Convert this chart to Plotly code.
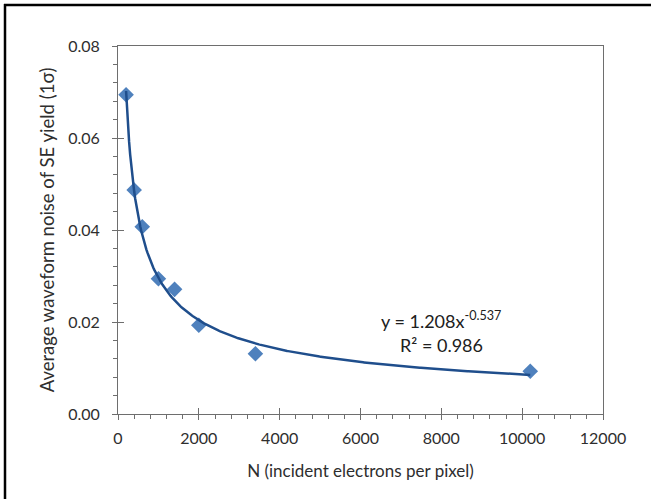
import numpy as np
import plotly.graph_objects as go

# Measured noise vs. incident electrons per pixel
n_electrons = [200, 400, 600, 1000, 1400, 2000, 3400, 10200]
noise_sigma = [0.0694, 0.0487, 0.0407, 0.0294, 0.0271, 0.0193, 0.0131, 0.0093]

# Power-law fit y = a * x^b
fit_a = 1.208
fit_b = -0.537
fit_r2 = 0.986

x_ticks = [0, 2000, 4000, 6000, 8000, 10000, 12000]
y_ticks = [0.00, 0.02, 0.04, 0.06, 0.08]

x_fit = np.linspace(min(n_electrons), max(n_electrons), 400)
y_fit = fit_a * x_fit ** fit_b

FONT = "Lato, 'Open Sans', sans-serif"
AXIS_COL = "#6e6e6e"
TEXT_COL = "#2e2e2e"

fig = go.Figure()
fig.add_trace(go.Scatter(
    x=n_electrons, y=noise_sigma, mode="markers",
    marker=dict(symbol="diamond", size=12, color="#4f81bd"),
    showlegend=False, hoverinfo="x+y",
))
fig.add_trace(go.Scatter(
    x=x_fit, y=y_fit, mode="lines",
    line=dict(color="#1f4e8c", width=2.5),
    showlegend=False, hoverinfo="skip",
))
# helper trace so the inner-tick axes are drawn
fig.add_trace(go.Scatter(x=[None], y=[None], xaxis="x2", yaxis="y2",
                         showlegend=False, hoverinfo="skip"))

x_range = [x_ticks[0], x_ticks[-1]]
y_range = [y_ticks[0], y_ticks[-1]]

fig.update_layout(
    width=651, height=499,
    margin=dict(l=118, r=48, t=46, b=85),
    paper_bgcolor="white", plot_bgcolor="white",
    font=dict(family=FONT, color=TEXT_COL, size=16),
    xaxis=dict(
        range=x_range, tickvals=x_ticks, ticktext=[str(v) for v in x_ticks],
        showgrid=False, zeroline=False,
        showline=True, linecolor=AXIS_COL, linewidth=1, mirror=True,
        ticks="outside", ticklen=5, tickcolor=AXIS_COL,
        minor=dict(dtick=400, ticks="outside", ticklen=4, tickcolor=AXIS_COL),
        tickfont=dict(size=16, color=TEXT_COL), ticklabelstandoff=5,
        title=dict(text="N (incident electrons per pixel)", standoff=18,
                   font=dict(size=17, color=TEXT_COL)),
    ),
    yaxis=dict(
        range=y_range, tickvals=y_ticks, ticktext=[f"{v:.2f}" for v in y_ticks],
        showgrid=False, zeroline=False,
        showline=True, linecolor=AXIS_COL, linewidth=1, mirror=True,
        ticks="outside", ticklen=5, tickcolor=AXIS_COL,
        minor=dict(dtick=0.004, ticks="outside", ticklen=4, tickcolor=AXIS_COL),
        tickfont=dict(size=16, color=TEXT_COL), ticklabelstandoff=9,
        title=dict(text="Average waveform noise of SE yield (1\u03c3)", standoff=8,
                   font=dict(size=18.5, color=TEXT_COL)),
    ),
    xaxis2=dict(
        overlaying="x", range=x_range, tickvals=x_ticks, showticklabels=False,
        ticks="inside", ticklen=6, tickcolor=AXIS_COL, showgrid=False,
        zeroline=False, showline=False,
    ),
    yaxis2=dict(
        overlaying="y", range=y_range, tickvals=y_ticks, showticklabels=False,
        ticks="inside", ticklen=6, tickcolor=AXIS_COL, showgrid=False,
        zeroline=False, showline=False,
    ),
)

fig.add_annotation(
    x=8000, y=0.0205, xref="x", yref="y", showarrow=False,
    text=f"y = {fit_a:.3f}x<sup>{fit_b:.3f}</sup>",
    font=dict(size=18, color="#202020", family=FONT),
)
fig.add_annotation(
    x=8000, y=0.0150, xref="x", yref="y", showarrow=False,
    text=f"R\u00b2 = {fit_r2:.3f}",
    font=dict(size=18, color="#202020", family=FONT),
)

# frame lines along the top and left edges of the figure
px_w, px_h = 651 - 118 - 48, 499 - 46 - 85
fx = lambda px: (px - 118) / px_w
fy = lambda py: (499 - 85 - py) / px_h
fig.add_shape(type="line", xref="paper", yref="paper",
              x0=fx(4), x1=fx(660), y0=fy(5), y1=fy(5),
              line=dict(color="black", width=2.5), layer="above")
fig.add_shape(type="line", xref="paper", yref="paper",
              x0=fx(5), x1=fx(5), y0=fy(4), y1=fy(510),
              line=dict(color="black", width=2.5), layer="above")

fig.write_html("out.html")
